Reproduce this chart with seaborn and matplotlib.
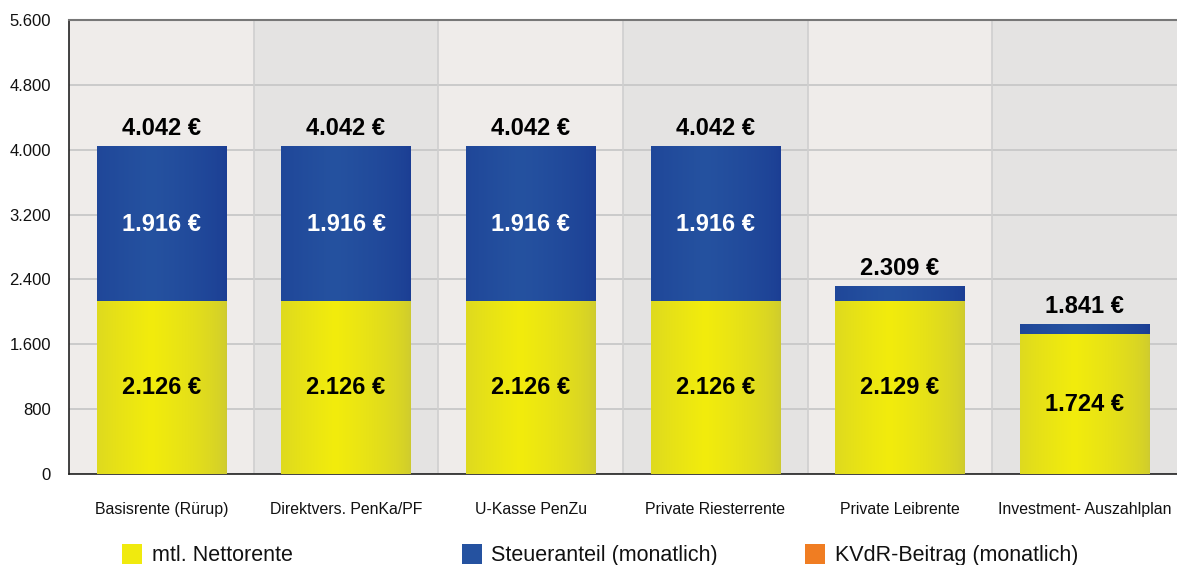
import numpy as np
import matplotlib
matplotlib.use("Agg")
import matplotlib.pyplot as plt
from matplotlib.colors import to_rgb
from matplotlib.patches import Patch
from matplotlib.ticker import FixedLocator, FuncFormatter, NullFormatter
import seaborn as sns

# Daten
kategorien = ["Basisrente (Rürup)", "Direktvers. PenKa/PF", "U-Kasse PenZu",
              "Private Riesterrente", "Private Leibrente", "Investment- Auszahlplan"]
nettorente = [2126, 2126, 2126, 2126, 2129, 1724]
steueranteil = [1916, 1916, 1916, 1916, 180, 117]
kvdr_beitrag = [0, 0, 0, 0, 0, 0]
y_ticks = [0, 800, 1600, 2400, 3200, 4000, 4800, 5600]
legende = ["mtl. Nettorente", "Steueranteil (monatlich)", "KVdR-Beitrag (monatlich)"]

GELB = "#f0ea0e"
BLAU = "#2552a0"
ORANGE = "#f07d22"

sns.set_style("white")
plt.rcParams["font.family"] = ["Liberation Sans", "DejaVu Sans"]

fig = plt.figure(figsize=(11.77, 5.65), dpi=100)
ax = fig.add_axes([0.0586, 0.161, 0.9414, 0.8035])

n = len(kategorien)
for i in range(n):
    ax.axvspan(i - 0.5, i + 0.5, color="#efecea" if i % 2 == 0 else "#e4e3e2", zorder=0, lw=0)

netto = np.array(nettorente)
steuer = np.array(steueranteil)
kvdr = np.array(kvdr_beitrag)
gesamt = netto + steuer + kvdr


def zeichne(werte, farbe, rand, zorder):
    # Balken mit seaborn, danach horizontaler Farbverlauf drüber
    vorher = len(ax.patches)
    sns.barplot(x=kategorien, y=werte, color=farbe, width=0.7, ax=ax,
                saturation=1, zorder=zorder, linewidth=0)
    neue = ax.patches[vorher:]
    c = np.array(to_rgb(farbe))
    e = np.array(to_rgb(rand))
    t = np.linspace(0, 1, 200)
    v = np.clip(1 - np.abs(t - 0.42) / 0.58, 0, 1) ** 0.6
    img = (e[None, :] * (1 - v[:, None]) + c[None, :] * v[:, None])[None, :, :]
    for p in neue:
        if p.get_height() <= 0:
            continue
        x0, y0 = p.get_x(), p.get_y()
        ax.imshow(img, extent=(x0, x0 + p.get_width(), y0, y0 + p.get_height()),
                  aspect="auto", zorder=zorder + 0.1, interpolation="bilinear")


zeichne(gesamt, ORANGE, "#d86a15", 2)
zeichne(netto + steuer, BLAU, "#1b3d93", 3)
zeichne(netto, "#f2ec0c", "#cdca30", 4)

ax.set_xlim(-0.5, n - 0.5)
ax.set_ylim(0, 5600)


def euro(v):
    return f"{v:,} €".replace(",", ".")


# Beschriftungen
for i in range(n):
    ax.annotate(euro(gesamt[i]), (i, gesamt[i]), xytext=(0, 8.5),
                textcoords="offset points", ha="center", va="baseline",
                fontsize=17, fontweight="bold", color="black", zorder=6)
    if steuer[i] >= 400:
        ax.text(i, netto[i] + steuer[i] / 2, euro(steuer[i]),
                ha="center", va="center", fontsize=17, fontweight="bold",
                color="white", zorder=6)
    ax.text(i, netto[i] / 2, euro(netto[i]),
            ha="center", va="center", fontsize=17, fontweight="bold",
            color="black", zorder=6)

# Achsen
ax.set_yticks(y_ticks)
ax.yaxis.set_major_formatter(FuncFormatter(lambda v, _: f"{int(v):,}".replace(",", ".")))
ax.grid(axis="y", color="#c8c8c8", lw=1.3, zorder=1)
ax.set_axisbelow(True)
for b in np.arange(0.5, n - 0.5):
    ax.axvline(b, color="#cfcfcf", lw=1.2, zorder=1)

ax.xaxis.set_major_locator(FixedLocator(np.arange(-0.5, n)))
ax.xaxis.set_major_formatter(NullFormatter())
ax.set_xticks(np.arange(n), kategorien, minor=True)
ax.tick_params(axis="x", which="major", length=8, width=1.2, color="#222222", direction="out")
ax.tick_params(axis="x", which="minor", length=0, pad=20, labelsize=11.4, labelcolor="#111111")
ax.tick_params(axis="y", length=8, width=1.2, color="#222222", direction="out",
               pad=5, labelsize=12, labelcolor="#111111")
ax.set_xlabel("")
ax.set_ylabel("")

for s in ["left", "bottom"]:
    ax.spines[s].set_color("#222222")
    ax.spines[s].set_linewidth(1.2)
ax.spines["top"].set_color("#777777")
ax.spines["top"].set_linewidth(1.5)
ax.spines["right"].set_visible(False)

# Legende
for lab, farbe, xpos in zip(legende, [GELB, BLAU, ORANGE], [0.1037, 0.3925, 0.684]):
    fig.legend(handles=[Patch(facecolor=farbe, edgecolor="none", label=lab)],
               loc="center left", bbox_to_anchor=(xpos, 0.0175), frameon=False,
               fontsize=15.5, handlelength=0.92, handleheight=1.05, handletextpad=0.45,
               borderpad=0, borderaxespad=0, labelcolor="#111111")

fig.savefig("out.png", dpi=100)
